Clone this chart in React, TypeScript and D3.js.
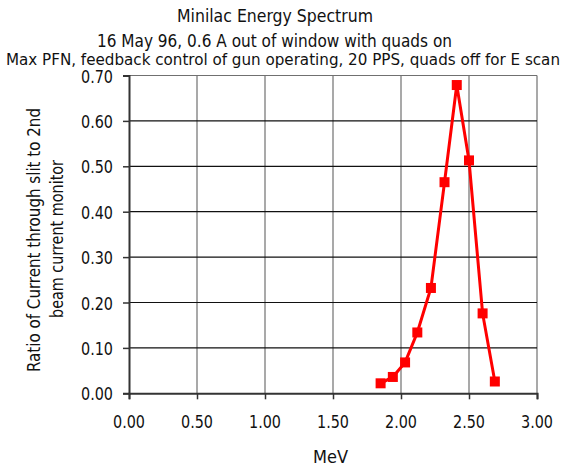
import React, { useEffect, useRef } from "react";
import * as d3 from "d3";

// energy (MeV) and ratio
const energy = [1.85, 1.94, 2.03, 2.12, 2.22, 2.32, 2.41, 2.5, 2.6, 2.69];
const ratio = [0.022, 0.036, 0.068, 0.134, 0.232, 0.465, 0.679, 0.513, 0.176, 0.026];

const xTicks = [0, 0.5, 1, 1.5, 2, 2.5, 3];
const yTicks = [0, 0.1, 0.2, 0.3, 0.4, 0.5, 0.6, 0.7];

const titleLines = [
  "Minilac Energy Spectrum",
  "16 May 96, 0.6 A  out of window  with quads on",
  "Max PFN, feedback control of gun operating, 20 PPS, quads off for E scan",
];
const yLabelLines = ["Ratio of Current through slit to 2nd", "beam current monitor"];
const xLabel = "MeV";

const FONT = "'DejaVu Sans Condensed', 'DejaVu Sans', sans-serif";

function App() {
  const ref = useRef<SVGSVGElement>(null);
  const width = 568;
  const height = 473;

  useEffect(() => {
    drawChart();
  }, []);

  function drawChart() {
    const svg = d3.select(ref.current);
    svg.selectAll("*").remove();

    const x = d3.scaleLinear().domain([0, 3]).range([129, 537]);
    const y = d3.scaleLinear().domain([0, 0.7]).range([393.3, 75.5]);
    const fmt = d3.format(".2f");

    const g = svg.append("g").style("font-family", FONT).style("font-size", "18px");

    // grid
    g.selectAll("line.vgrid")
      .data(xTicks.slice(1))
      .enter()
      .append("line")
      .attr("x1", (d) => x(d))
      .attr("x2", (d) => x(d))
      .attr("y1", y(0.7))
      .attr("y2", y(0))
      .attr("stroke", "#707070")
      .attr("stroke-width", 1.2);

    g.selectAll("line.hgrid")
      .data(yTicks.slice(1))
      .enter()
      .append("line")
      .attr("x1", x(0))
      .attr("x2", x(3))
      .attr("y1", (d) => y(d))
      .attr("y2", (d) => y(d))
      .attr("stroke", (d) => (d === 0.7 ? "#707070" : "#111"))
      .attr("stroke-width", 1.2);

    // axes
    const xAxis = d3.axisBottom(x).tickValues(xTicks).tickSize(6).tickFormat(() => "");
    const yAxis = d3.axisLeft(y).tickValues(yTicks).tickSize(6).tickFormat(() => "");

    const gx = g.append("g").attr("transform", `translate(0,${y(0)})`).call(xAxis);
    const gy = g.append("g").attr("transform", `translate(${x(0)},0)`).call(yAxis);
    [gx, gy].forEach((a) => {
      a.select(".domain").attr("stroke", "#333").attr("stroke-width", 2);
      a.selectAll(".tick line").attr("stroke", "#333").attr("stroke-width", 1.5);
    });

    // tick labels
    g.selectAll("text.xt")
      .data(xTicks)
      .enter()
      .append("text")
      .attr("x", (d) => x(d))
      .attr("y", 428)
      .attr("text-anchor", "middle")
      .attr("textLength", 32)
      .attr("lengthAdjust", "spacingAndGlyphs")
      .attr("fill", "#111")
      .text((d) => fmt(d));

    g.selectAll("text.yt")
      .data(yTicks)
      .enter()
      .append("text")
      .attr("x", 113)
      .attr("y", (d) => y(d) + 7)
      .attr("text-anchor", "end")
      .attr("textLength", 32)
      .attr("lengthAdjust", "spacingAndGlyphs")
      .attr("fill", "#111")
      .text((d) => fmt(d));

    // titles
    const titleY = [22, 47, 65];
    const titleX = [177, 97, 6];
    const titleW = [196, 355, 554];
    const titleSize = [18, 17, 16];
    g.selectAll("text.title")
      .data(titleLines)
      .enter()
      .append("text")
      .attr("x", (d, i) => titleX[i])
      .attr("y", (d, i) => titleY[i])
      .attr("textLength", (d, i) => titleW[i])
      .attr("lengthAdjust", "spacingAndGlyphs")
      .style("font-size", (d, i) => `${titleSize[i]}px`)
      .attr("fill", "#111")
      .text((d) => d);

    g.append("text")
      .attr("x", 313)
      .attr("y", 463)
      .attr("textLength", 35)
      .attr("lengthAdjust", "spacingAndGlyphs")
      .attr("fill", "#111")
      .text(xLabel);

    const yLabW = [264, 158];
    g.selectAll("text.ylab")
      .data(yLabelLines)
      .enter()
      .append("text")
      .attr("transform", (d, i) => `translate(${i === 0 ? 40 : 63},${i === 0 ? 372 : 318}) rotate(-90)`)
      .attr("textLength", (d, i) => yLabW[i])
      .attr("lengthAdjust", "spacingAndGlyphs")
      .attr("fill", "#111")
      .text((d) => d);

    // data line
    const pts = energy.map((e, i) => [e, ratio[i]] as [number, number]);
    const line = d3
      .line<[number, number]>()
      .x((d) => x(d[0]))
      .y((d) => y(d[1]));

    g.append("path")
      .datum(pts)
      .attr("d", line)
      .attr("fill", "none")
      .attr("stroke", "#ff0000")
      .attr("stroke-width", 3);

    g.selectAll("rect.pt")
      .data(pts)
      .enter()
      .append("rect")
      .attr("x", (d) => x(d[0]) - 5)
      .attr("y", (d) => y(d[1]) - 5)
      .attr("width", 10)
      .attr("height", 10)
      .attr("fill", "#ff0000");
  }

  return (
    <svg
      ref={ref}
      width={width}
      height={height}
      style={{ position: "absolute", left: 0, top: 0, background: "#fff" }}
    />
  );
}

export default App;
